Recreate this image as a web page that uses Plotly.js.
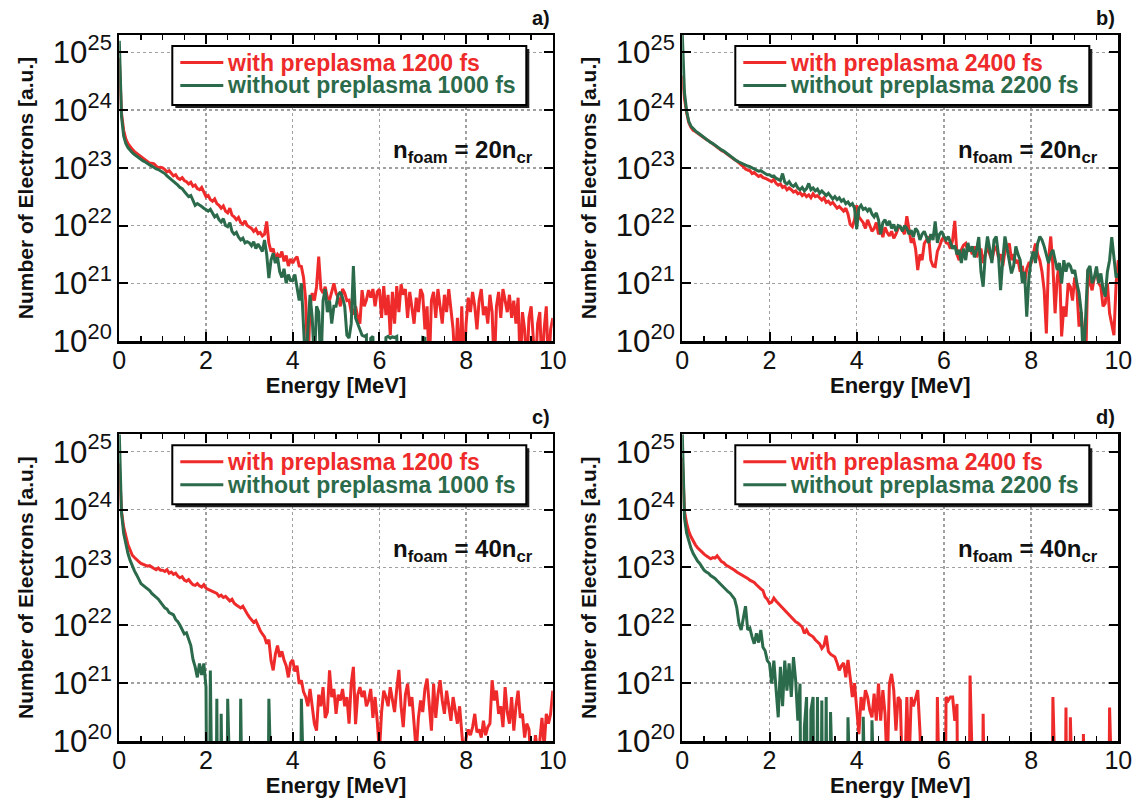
<!DOCTYPE html>
<html><head><meta charset="utf-8">
<script src="https://cdn.plot.ly/plotly-3.0.1.min.js"></script>
<style>html,body{margin:0;padding:0;background:#fff}</style>
</head><body>
<div id="chart" style="width:1139px;height:798px"></div>
<script>
// Energy grid [MeV]
const energy = [
0,0.05,0.1,0.15,0.2,0.25,0.3,0.35,0.4,0.45,0.5,0.55,0.6,0.65,0.7,0.75,0.8,0.85,0.9,0.95,
1,1.05,1.1,1.15,1.2,1.25,1.3,1.35,1.4,1.45,1.5,1.55,1.6,1.65,1.7,1.75,1.8,1.85,1.9,1.95,
2,2.05,2.1,2.15,2.2,2.25,2.3,2.35,2.4,2.45,2.5,2.55,2.6,2.65,2.7,2.75,2.8,2.85,2.9,2.95,
3,3.05,3.1,3.15,3.2,3.25,3.3,3.35,3.4,3.45,3.5,3.55,3.6,3.65,3.7,3.75,3.8,3.85,3.9,3.95,
4,4.05,4.1,4.15,4.2,4.25,4.3,4.35,4.4,4.45,4.5,4.55,4.6,4.65,4.7,4.75,4.8,4.85,4.9,4.95,
5,5.05,5.1,5.15,5.2,5.25,5.3,5.35,5.4,5.45,5.5,5.55,5.6,5.65,5.7,5.75,5.8,5.85,5.9,5.95,
6,6.05,6.1,6.15,6.2,6.25,6.3,6.35,6.4,6.45,6.5,6.55,6.6,6.65,6.7,6.75,6.8,6.85,6.9,6.95,
7,7.05,7.1,7.15,7.2,7.25,7.3,7.35,7.4,7.45,7.5,7.55,7.6,7.65,7.7,7.75,7.8,7.85,7.9,7.95,
8,8.05,8.1,8.15,8.2,8.25,8.3,8.35,8.4,8.45,8.5,8.55,8.6,8.65,8.7,8.75,8.8,8.85,8.9,8.95,
9,9.05,9.1,9.15,9.2,9.25,9.3,9.35,9.4,9.45,9.5,9.55,9.6,9.65,9.7,9.75,9.8,9.85,9.9,9.95,
10];

// log10(Number of electrons); 15 = no electrons in that bin (below the axis)
// Panel a) n_foam = 20 n_cr
const logA_with = [
24.9,23.95,23.65,23.5,23.42,23.36,23.32,23.28,23.25,23.22,23.2,23.16,23.13,23.1,23.08,23.08,23.07,23.03,23.0,23.01,
23.0,22.97,22.93,22.95,22.9,22.86,22.88,22.82,22.8,22.83,22.78,22.76,22.72,22.75,22.68,22.7,22.64,22.62,22.66,22.58,
22.5,22.52,22.45,22.42,22.46,22.38,22.35,22.3,22.34,22.25,22.22,22.3,22.18,22.15,22.1,22.14,22.05,22.02,22.08,22.0,
21.97,21.95,21.9,21.94,21.86,21.88,21.82,21.85,22.07,21.7,21.55,21.6,21.42,21.5,21.45,21.55,21.38,21.48,21.3,21.42,
21.35,21.42,21.46,21.3,21.29,21.1,20.71,19.5,20.6,20.83,20.7,20.94,21.46,20.9,20.83,20.94,20.75,20.71,20.85,21.0,
20.83,20.75,20.6,20.9,20.83,20.7,20.71,20.5,20.48,20.6,20.42,20.3,20.88,20.6,20.71,20.88,20.75,20.9,20.6,20.85,
20.9,20.4,20.95,20.45,20.8,20.1,20.85,20.3,20.95,20.5,20.98,20.8,20.9,20.4,20.85,20.6,20.3,20.75,20.5,20.9,
20.8,20.2,20.6,19.5,20.7,20.85,20.4,20.9,20.55,20.3,20.8,20.5,20.9,20.6,20.2,19.5,20.4,19.5,20.6,19.5,
20.3,20.75,20.5,20.85,20.6,20.2,20.7,20.9,20.45,20.6,20.3,20.8,20.5,19.5,20.6,20.85,20.4,20.9,20.7,20.5,
20.8,20.4,20.7,20.3,20.75,19.5,20.5,20.2,19.5,20.4,20.6,20.1,19.5,20.3,20.5,19.5,20.2,20.6,19.5,20.2,
20.4];
const logA_without = [
25.2,23.9,23.55,23.42,23.35,23.3,23.26,23.23,23.2,23.17,23.15,23.12,23.1,23.07,23.05,23.03,23.0,22.98,22.97,22.95,
22.93,22.9,22.86,22.83,22.8,22.76,22.73,22.7,22.66,22.64,22.59,22.55,22.5,22.52,22.42,22.35,22.38,22.36,22.33,22.3,
22.27,22.25,22.28,22.2,22.15,22.18,22.1,22.06,22.12,22.0,21.98,22.05,21.9,21.85,21.88,21.8,21.75,21.78,21.7,21.72,
21.7,21.65,21.72,21.6,21.68,21.62,21.55,21.75,21.5,21.09,21.4,21.52,21.35,21.45,21.2,21.1,21.25,21.0,21.15,21.05,
21.05,21.15,20.9,20.7,21.0,20.4,19.5,20.2,20.8,20.4,19.6,20.6,20.5,19.5,20.7,20.9,20.5,20.7,20.3,20.6,
20.6,20.8,20.85,20.75,20.6,20.1,20.05,20.3,21.3,20.4,20.3,20.2,20.1,20.08,20.1,15,20.05,20.08,15,15,
15,15,15,20.06,20.08,20.05,20.07,20.06,20.08,15,15,15,15,15,15,15,15,15,15,15,
20.06,20.05,15,15,15,15,15,15,15,15,15,15,15,15,15,15,15,15,15,15,
15,15,15,15,15,15,15,15,15,15,15,15,15,15,15,15,15,15,15,15,
15,15,15,15,15,15,15,15,15,15,15,15,15,15,15,15,15,15,15,15,
15];
// Panel b) n_foam = 20 n_cr, later times
const logB_with = [
24.6,24.2,23.95,23.78,23.7,23.65,23.63,23.6,23.57,23.55,23.51,23.49,23.47,23.44,23.41,23.38,23.35,23.33,23.3,23.28,
23.25,23.22,23.19,23.17,23.14,23.12,23.08,23.05,23.02,22.98,22.96,22.95,22.9,22.92,22.88,22.85,22.87,22.83,22.82,22.8,
22.78,22.76,22.8,22.73,22.7,22.72,22.66,22.68,22.62,22.65,22.62,22.58,22.6,22.55,22.57,22.52,22.55,22.5,22.53,22.48,
22.55,22.5,22.52,22.47,22.44,22.48,22.4,22.42,22.37,22.4,22.35,22.3,22.33,22.28,22.25,22.3,22.2,22.02,21.98,22.1,
22.35,22.15,22.1,22.05,21.95,22.1,22.0,21.9,21.95,22.05,21.85,21.92,21.8,21.97,21.88,21.82,21.9,21.78,21.85,21.95,
21.98,21.9,21.85,22.16,21.9,21.7,21.78,21.6,21.23,21.5,21.4,21.69,21.75,21.81,21.4,21.3,21.29,21.55,21.64,21.75,
21.81,21.7,21.69,21.6,21.75,22.08,21.5,21.4,21.58,21.66,21.69,21.55,21.62,21.5,21.64,21.45,21.55,21.6,21.35,21.5,
21.64,21.5,21.4,21.58,21.64,21.45,21.5,21.3,21.55,21.62,21.69,21.4,21.5,21.35,21.4,21.2,21.3,21.0,21.25,21.35,
21.35,21.5,21.69,21.5,21.4,21.2,20.88,20.13,21.4,21.81,21.3,20.48,21.1,21.35,20.08,20.6,20.42,21.0,20.94,20.7,
21.1,20.9,20.25,20.5,19.8,19.5,21.23,21.0,20.88,21.1,21.2,21.0,20.94,20.6,20.65,21.0,20.48,20.31,20.1,21.0,
21.4];
const logB_without = [
25.3,24.3,23.98,23.8,23.72,23.67,23.64,23.61,23.58,23.55,23.52,23.5,23.47,23.44,23.42,23.39,23.36,23.34,23.31,23.29,
23.26,23.23,23.2,23.18,23.15,23.12,23.1,23.08,23.06,23.05,23.03,23.02,23.0,22.98,22.96,22.94,22.95,22.92,22.9,22.88,
22.88,22.85,22.86,22.82,22.8,22.78,22.9,22.75,22.72,22.76,22.7,22.68,22.72,22.65,22.62,22.66,22.6,22.64,22.73,22.62,
22.65,22.6,22.63,22.56,22.6,22.55,22.52,22.56,22.5,22.46,22.5,22.45,22.48,22.42,22.45,22.38,22.41,22.35,22.38,22.3,
21.94,22.3,22.35,22.28,22.3,22.25,22.3,22.2,22.15,22.22,22.1,21.85,22.05,22.1,22.0,22.08,21.95,22.02,21.9,22.0,
21.98,21.9,22.0,21.95,21.85,21.92,21.8,21.95,21.9,21.75,21.85,21.9,21.8,21.7,21.85,21.75,22.07,21.7,21.85,21.9,
21.81,21.75,21.81,21.7,21.6,21.65,21.5,21.58,21.35,21.6,21.4,21.7,21.55,21.64,21.45,21.58,21.8,21.2,20.94,21.5,
21.81,21.6,21.35,21.75,21.81,21.5,20.88,21.4,21.81,21.6,21.4,21.17,21.3,21.64,21.5,21.4,21.0,21.2,20.42,21.1,
21.4,21.55,21.35,21.69,21.81,21.75,21.64,21.5,21.35,21.5,21.58,21.4,21.23,21.35,21.0,21.4,21.2,21.35,21.3,21.17,
21.23,21.0,20.83,20.5,19.6,20.4,21.23,21.3,21.0,21.1,21.29,21.0,21.17,20.9,20.77,21.2,21.4,21.8,21.5,21.1,
21.17];
// Panel c) n_foam = 40 n_cr
const logC_with = [
24.8,23.97,23.7,23.53,23.39,23.3,23.21,23.17,23.13,23.1,23.07,23.05,23.04,23.02,23.03,23.0,22.98,22.96,22.99,22.95,
22.95,22.93,22.96,22.9,22.92,22.88,22.9,22.85,22.82,22.84,22.78,22.76,22.79,22.74,22.7,22.69,22.72,22.68,22.66,22.7,
22.64,22.62,22.6,22.58,22.56,22.55,22.5,22.52,22.48,22.5,22.46,22.42,22.45,22.38,22.35,22.32,22.3,22.33,22.25,22.2,
22.14,22.1,22.05,22.08,21.98,21.91,21.85,21.8,21.68,21.75,21.39,21.22,21.5,21.65,21.45,21.55,21.4,21.3,21.1,21.35,
21.4,21.2,21.3,20.99,21.05,20.85,20.76,20.6,20.9,20.64,20.3,20.18,20.8,20.6,20.93,20.4,20.5,21.22,20.76,20.9,
20.47,20.8,20.7,20.9,20.6,20.76,20.3,20.99,21.28,20.29,20.8,20.93,20.76,20.87,20.6,20.7,20.9,20.4,20.76,20.35,
19.8,20.5,20.87,20.76,20.6,20.93,20.7,20.5,20.9,21.23,20.6,20.24,20.8,20.99,20.6,20.76,20.3,19.8,20.4,20.7,
20.5,20.9,21.08,20.6,20.18,20.99,20.4,20.8,21.05,20.7,20.47,20.87,20.6,20.35,20.76,20.5,20.3,20.6,20.2,19.7,
20.06,20.2,20.1,20.24,20.47,20.15,20.2,20.06,20.35,20.1,20.24,20.3,21.05,20.7,20.87,20.47,20.6,20.24,20.93,20.5,
20.3,20.76,20.18,20.6,20.87,20.4,20.47,20.06,20.3,20.2,19.6,19.7,20.1,19.8,20.0,20.4,19.9,20.47,20.3,20.47,
20.87];
const logC_without = [
25.3,23.95,23.59,23.39,23.24,23.12,23.01,22.94,22.87,22.8,22.72,22.69,22.66,22.62,22.6,22.55,22.52,22.48,22.45,22.4,
22.35,22.3,22.28,22.22,22.2,22.18,22.1,22.06,22.0,21.91,21.85,21.87,21.75,21.65,21.41,21.28,21.1,21.34,21.14,21.34,
20.93,15,21.22,15,15,20.73,15,20.47,15,15,20.73,15,15,15,15,15,20.73,15,15,15,
15,15,15,15,15,15,15,15,15,20.73,15,15,15,15,15,15,15,15,15,15,
15,15,15,15,20.73,15,15,15,15,15,15,15,15,15,15,15,15,15,15,15,
15,15,15,15,15,15,15,15,15,15,15,15,15,15,15,15,15,15,15,15,
15,15,15,15,15,15,15,15,15,15,15,15,15,15,15,15,15,15,15,15,
15,15,15,15,15,15,15,15,15,15,15,15,15,15,15,15,15,15,15,15,
15,15,15,15,15,15,15,15,15,15,15,15,15,15,15,15,15,15,15,15,
15,15,15,15,15,15,15,15,15,15,15,15,15,15,15,15,15,15,15,15,
15];
// Panel d) n_foam = 40 n_cr, later times
const logD_with = [
24.9,23.97,23.76,23.62,23.53,23.45,23.39,23.34,23.3,23.26,23.23,23.2,23.18,23.15,23.17,23.16,23.2,23.14,23.1,23.08,
23.04,23.02,23.0,22.97,22.95,22.92,22.9,22.88,22.85,22.83,22.81,22.78,22.76,22.74,22.7,22.66,22.63,22.6,22.49,22.45,
22.38,22.4,22.47,22.42,22.38,22.35,22.3,22.26,22.22,22.18,22.14,22.1,22.06,22.04,22.0,21.97,21.86,21.92,21.85,21.82,
21.8,21.75,21.72,21.68,21.6,21.65,21.82,21.55,21.5,21.48,21.45,21.35,21.22,21.3,21.35,21.1,21.4,21.1,20.76,21.0,
20.58,20.12,20.76,20.53,20.88,20.76,20.53,20.41,20.82,20.35,20.99,20.35,20.88,20.47,19.5,20.99,21.16,20.88,20.18,20.76,
20.7,19.3,19.3,20.76,19.5,20.76,20.6,20.76,20.88,20.18,19.2,15,15,15,15,15,15,20.76,15,15,
15,20.76,20.7,20.76,20.76,20.35,20.64,15,15,15,15,15,21.13,15,15,15,15,15,20.47,15,
15,15,15,15,15,15,15,15,15,15,15,15,15,15,15,15,15,15,15,15,
15,15,15,15,15,15,15,15,15,15,20.76,15,15,15,15,15,20.58,15,20.41,15,
15,15,15,15,20.12,15,15,15,15,15,15,15,15,15,15,15,20.58,15,15,15,
15];
const logD_without = [
25.3,23.85,23.59,23.45,23.33,23.24,23.16,23.11,23.07,23.0,22.95,22.92,22.9,22.86,22.84,22.81,22.77,22.73,22.7,22.66,
22.61,22.58,22.55,22.5,22.45,22.3,22.03,21.92,22.16,22.33,21.92,21.95,21.8,21.68,21.86,21.7,21.92,21.62,21.56,21.39,
21.34,20.99,21.39,20.87,20.41,21.28,20.6,21.39,20.87,21.34,20.76,21.45,21.05,20.35,20.99,15,20.24,20.76,15,20.53,
20.76,15,20.76,15,20.7,15,20.76,15,20.5,15,15,15,15,15,15,15,20.41,15,15,15,
15,15,15,20.42,15,15,15,20.36,15,15,15,15,15,15,15,15,15,15,15,15,
15,15,15,15,15,15,15,15,15,15,15,15,15,15,15,15,15,15,15,15,
15,15,15,15,15,15,15,15,15,15,15,15,15,15,15,15,15,15,15,15,
15,15,15,15,15,15,15,15,15,15,15,15,15,15,15,15,15,15,15,15,
15,15,15,15,15,15,15,15,15,15,15,15,15,15,15,15,15,15,15,15,
15,15,15,15,15,15,15,15,15,15,15,15,15,15,15,15,15,15,15,15,
15];

const panelLabels = ['a)', 'b)', 'c)', 'd)'];
const densityLabels = ['20', '20', '40', '40'];
const withNames = ['with preplasma 1200 fs', 'with preplasma 2400 fs', 'with preplasma 1200 fs', 'with preplasma 2400 fs'];
const withoutNames = ['without preplasma 1000 fs', 'without preplasma 2200 fs', 'without preplasma 1000 fs', 'without preplasma 2200 fs'];
const seriesWith = [logA_with, logB_with, logC_with, logD_with];
const seriesWithout = [logA_without, logB_without, logC_without, logD_without];

// ---------- styling / layout ----------
const W = 1139, H = 798;
const RED = '#ee2a2a', GREEN = '#2b6b4b';
const FONT = 'Liberation Sans, Arial, Helvetica, sans-serif';
const px = v => v / W, py = v => 1 - v / H;

// minor tick positions of the log axes (2..9 x 10^n)
const yMinor = [];
for (let d = 20; d <= 25; d++) for (let k = 2; k <= 9; k++) yMinor.push(k * Math.pow(10, d));

// pixel boxes of the four plot areas
const boxes = [
  {l: 119.3, r: 552.8, t: 35, b: 341},
  {l: 682.3, r: 1118.3, t: 35, b: 341},
  {l: 119.3, r: 552.8, t: 434.3, b: 741},
  {l: 682.3, r: 1118.3, t: 434.3, b: 741}
];

const toN = arr => arr.map(v => Math.pow(10, v));

const traces = [];
const layout = {
  width: W, height: H,
  margin: {l: 0, r: 0, t: 0, b: 0},
  paper_bgcolor: '#fff', plot_bgcolor: '#fff',
  font: {family: FONT, color: '#000'},
  showlegend: false,
  annotations: [], shapes: []
};

boxes.forEach((bx, i) => {
  const n = i === 0 ? '' : String(i + 1);
  const xa = 'x' + n, ya = 'y' + n;
  traces.push({
    x: energy, y: toN(seriesWith[i]), xaxis: xa, yaxis: ya, type: 'scatter', mode: 'lines',
    line: {color: RED, width: 3}, name: withNames[i], showlegend: false, hoverinfo: 'skip'
  });
  traces.push({
    x: energy, y: toN(seriesWithout[i]), xaxis: xa, yaxis: ya, type: 'scatter', mode: 'lines',
    line: {color: GREEN, width: 3}, name: withoutNames[i], showlegend: false, hoverinfo: 'skip'
  });

  layout['xaxis' + n] = {
    domain: [px(bx.l), px(bx.r)], anchor: ya, range: [0, 10], dtick: 2, tick0: 0,
    ticks: 'inside', ticklen: 9, tickwidth: 2, tickcolor: '#000',
    showline: true, linewidth: 2.5, linecolor: '#000', mirror: 'ticks',
    showgrid: true, gridcolor: '#a0a0a0', griddash: 'dot', gridwidth: 1.5, zeroline: false,
    minor: {ticks: 'inside', ticklen: 5, tickwidth: 1.5, tickcolor: '#000', dtick: 0.5, tick0: 0, showgrid: false},
    tickfont: {family: FONT, size: 25, color: '#111'}, ticklabelstandoff: -5,
    title: {text: 'Energy [MeV]', font: {family: FONT, size: 22, weight: 'bold', color: '#111'}, standoff: 0},
    automargin: false, fixedrange: true
  };
  layout['yaxis' + n] = {
    domain: [py(bx.b), py(bx.t)], anchor: xa, type: 'log', range: [20, 25.3], dtick: 1,
    exponentformat: 'power', showexponent: 'all',
    ticks: 'inside', ticklen: 9, tickwidth: 2, tickcolor: '#000',
    showline: true, linewidth: 2.5, linecolor: '#000', mirror: 'ticks',
    showgrid: true, gridcolor: '#a0a0a0', griddash: 'dot', gridwidth: 1.5, zeroline: false,
    tickfont: {family: FONT, size: 25, color: '#111'},
    title: {text: 'Number of Electrons [a.u.]', font: {family: FONT, size: 21, weight: 'bold', color: '#111'}, standoff: 14},
    automargin: false, fixedrange: true
  };
  // overlay axis that only carries the minor (2..9) log ticks on left and right
  layout['yaxis' + (i + 5)] = {
    overlaying: ya, anchor: xa, side: 'left', type: 'log', range: [20, 25.3],
    tickmode: 'array', tickvals: yMinor, showticklabels: false,
    ticks: 'inside', ticklen: 5, tickwidth: 1.5, tickcolor: '#000',
    showline: false, mirror: 'ticks', showgrid: false, zeroline: false,
    automargin: false, fixedrange: true
  };

  // legend box (drawn in pixel positions relative to the panel)
  const L = bx.l + 53, R = bx.l + 407, T = bx.t + 11, B = bx.t + 70;
  layout.shapes.push({type: 'rect', xref: 'paper', yref: 'paper', layer: 'above',
    x0: px(L + 3), x1: px(R + 3), y0: py(B + 3), y1: py(T + 3), fillcolor: '#222', line: {width: 0}});
  layout.shapes.push({type: 'rect', xref: 'paper', yref: 'paper', layer: 'above',
    x0: px(L), x1: px(R), y0: py(B), y1: py(T), fillcolor: '#fff', line: {color: '#000', width: 2}});
  const rows = [{c: RED, t: withNames[i], y: bx.t + 27.5}, {c: GREEN, t: withoutNames[i], y: bx.t + 50.5}];
  rows.forEach(r => {
    layout.shapes.push({type: 'line', xref: 'paper', yref: 'paper', layer: 'above',
      x0: px(L + 8), x1: px(L + 51), y0: py(r.y), y1: py(r.y), line: {color: r.c, width: 3}});
    layout.annotations.push({xref: 'paper', yref: 'paper', x: px(L + 53), y: py(r.y), xanchor: 'left', yanchor: 'middle',
      text: '<b>' + r.t + '</b>', showarrow: false, font: {family: FONT, size: 23, color: r.c}});
  });

  layout.annotations.push({
    xref: 'paper', yref: 'paper', x: px(bx.r - 1), y: py(bx.t - 17), xanchor: 'right', yanchor: 'middle',
    text: '<b>' + panelLabels[i] + '</b>', showarrow: false, font: {family: FONT, size: 20, color: '#111'}
  });
  layout.annotations.push({
    xref: 'paper', yref: 'paper', x: px(bx.r - 18), y: py(bx.t + 116), xanchor: 'right', yanchor: 'middle',
    text: '<b>n<sub>foam</sub> = ' + densityLabels[i] + 'n<sub>cr</sub></b>', showarrow: false,
    font: {family: FONT, size: 24, color: '#111'}
  });
});

Plotly.newPlot('chart', traces, layout, {staticPlot: true, displayModeBar: false});
</script>
</body></html>
